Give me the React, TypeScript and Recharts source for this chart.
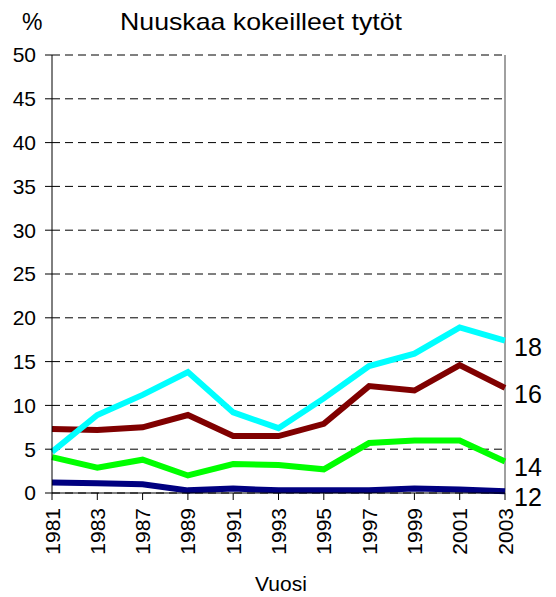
import { LineChart, Line, XAxis, YAxis, CartesianGrid, ReferenceLine } from 'recharts'

const years = ['1981', '1983', '1987', '1989', '1991', '1993', '1995', '1997', '1999', '2001', '2003']
const age12 = [1.2, 1.1, 1.0, 0.3, 0.5, 0.3, 0.3, 0.3, 0.5, 0.4, 0.2]
const age14 = [4.1, 2.9, 3.8, 2.0, 3.3, 3.2, 2.7, 5.7, 6.0, 6.0, 3.6]
const age16 = [7.3, 7.2, 7.5, 8.9, 6.5, 6.5, 7.9, 12.2, 11.7, 14.6, 12.0]
const age18 = [4.7, 8.9, 11.2, 13.8, 9.2, 7.4, 10.8, 14.5, 15.9, 18.9, 17.4]
const yTicks = [0, 5, 10, 15, 20, 25, 30, 35, 40, 45, 50]

const series = [
    { key: 'a12', name: '12', values: age12, color: '#000080' },
    { key: 'a14', name: '14', values: age14, color: '#00FF00' },
    { key: 'a16', name: '16', values: age16, color: '#800000' },
    { key: 'a18', name: '18', values: age18, color: '#00FFFF' },
]

const data = years.map((year, i) => {
    const row: any = { year }
    series.forEach(s => { row[s.key] = s.values[i] })
    return row
})

const font = '"Liberation Sans", Arial, sans-serif'

function YearTick({ x, y, payload }: any) {
    return (
        <text
            transform={`translate(${x},${y + 6}) rotate(-90)`}
            textAnchor="end"
            dominantBaseline="central"
            fontSize={21}
            fontFamily={font}
            fill="#000"
        >
            {payload.value}
        </text>
    )
}

function endLabel(name: string) {
    return (props: any) => {
        const { x, y, index } = props
        if (index !== years.length - 1) return null
        return (
            <text x={x + 9} y={y + 15} fontSize={25} fontFamily={font} fill="#000">
                {name}
            </text>
        )
    }
}

export default function App() {
    return (
        <div style={{ position: 'absolute', left: 0, top: 0, width: 556, height: 597, background: '#fff' }}>
            <LineChart width={556} height={597} data={data} margin={{ top: 55, right: 51, bottom: 44, left: 0 }}>
                <CartesianGrid vertical={false} stroke="#000" strokeDasharray="8 5" />
                <XAxis
                    dataKey="year"
                    interval={0}
                    height={60}
                    tickSize={7}
                    tickMargin={2}
                    stroke="#000"
                    tickLine={{ stroke: '#000' }}
                    axisLine={{ stroke: '#000' }}
                    tick={<YearTick />}
                />
                <YAxis
                    domain={[0, 50]}
                    ticks={yTicks}
                    interval={0}
                    width={52}
                    tickSize={7}
                    tickMargin={9}
                    stroke="#000"
                    tick={{ fill: '#000', fontSize: 21, fontFamily: font }}
                />
                <ReferenceLine x="2003" stroke="#808080" strokeWidth={1.5} />
                {series.map(s => (
                    <Line
                        key={s.key}
                        dataKey={s.key}
                        stroke={s.color}
                        strokeWidth={6}
                        dot={false}
                        type="linear"
                        isAnimationActive={false}
                        label={endLabel(s.name)}
                    />
                ))}
            </LineChart>
            <svg width={556} height={597} style={{ position: 'absolute', left: 0, top: 0, pointerEvents: 'none' }}>
                <text x={22} y={30} fontSize={23} fontFamily={font} fill="#000">%</text>
                <text x={120} y={30} fontSize={24} fontFamily={font} fill="#000" textLength={282} lengthAdjust="spacingAndGlyphs">
                    Nuuskaa kokeilleet tytöt
                </text>
                <text x={281} y={591} fontSize={21} fontFamily={font} fill="#000" textAnchor="middle">Vuosi</text>
            </svg>
        </div>
    )
}
